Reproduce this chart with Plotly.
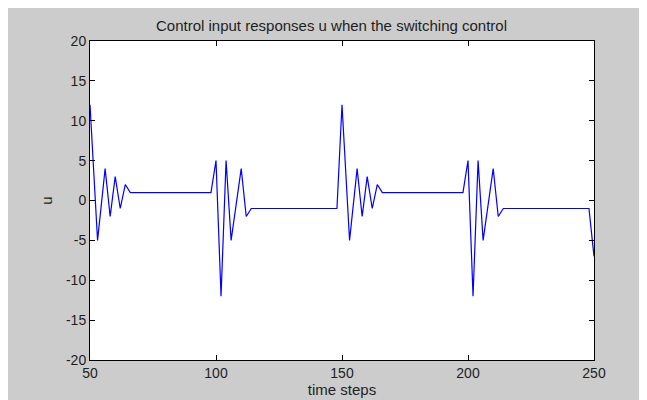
import plotly.graph_objects as go

# vertices of the control input signal u (time step, value)
time_steps = [50, 53, 56, 58, 60, 62, 64, 66, 98, 100, 102, 104, 106, 110, 112, 114,
              148, 150, 153, 156, 158, 160, 162, 164, 166, 198, 200, 202, 204, 206,
              210, 212, 214, 248, 250]
u_values = [12, -5, 4, -2, 3, -1, 2, 1, 1, 5, -12, 5, -5, 4, -2, -1,
            -1, 12, -5, 4, -2, 3, -1, 2, 1, 1, 5, -12, 5, -5,
            4, -2, -1, -1, -7]

x_ticks = [50, 100, 150, 200, 250]
y_ticks = [-20, -15, -10, -5, 0, 5, 10, 15, 20]
y_tick_labels = ["-20", "-15", "-10", "-5", "0", "5", "10", "15", "20"]

tick_font = dict(family="Liberation Sans, Arial, sans-serif", size=14, color="#1e1e1e")
label_font = dict(family="Liberation Sans, Arial, sans-serif", size=15, color="#1e1e1e")

fig = go.Figure()

fig.add_trace(
    go.Scatter(
        x=time_steps,
        y=u_values,
        mode="lines",
        line=dict(color="#0000ff", width=1.2),
        showlegend=False,
    )
)

axis_style = dict(
    showgrid=False,
    zeroline=False,
    showline=True,
    linecolor="black",
    linewidth=1,
    mirror="ticks",
    ticks="inside",
    ticklen=5,
    tickcolor="black",
    tickfont=tick_font,
)

fig.update_xaxes(
    range=[50, 250],
    tickvals=x_ticks,
    title=dict(text="time steps", font=label_font, standoff=0),
    **axis_style,
)
fig.update_yaxes(
    range=[-20, 20],
    tickvals=y_ticks,
    ticktext=y_tick_labels,
    title=dict(text="u", font=label_font, standoff=9),
    **axis_style,
)

# the page body adds an 8px offset, so margins are shifted to keep the box in place
fig.update_layout(
    title=dict(text="Control input responses u when the switching control",
               font=label_font, x=0.5, xanchor="center", y=0.955, yanchor="middle"),
    width=647,
    height=400,
    margin=dict(l=82, r=61, t=33, b=48),
    paper_bgcolor="#cccccc",
    plot_bgcolor="white",
)

fig.write_html("out.html")
